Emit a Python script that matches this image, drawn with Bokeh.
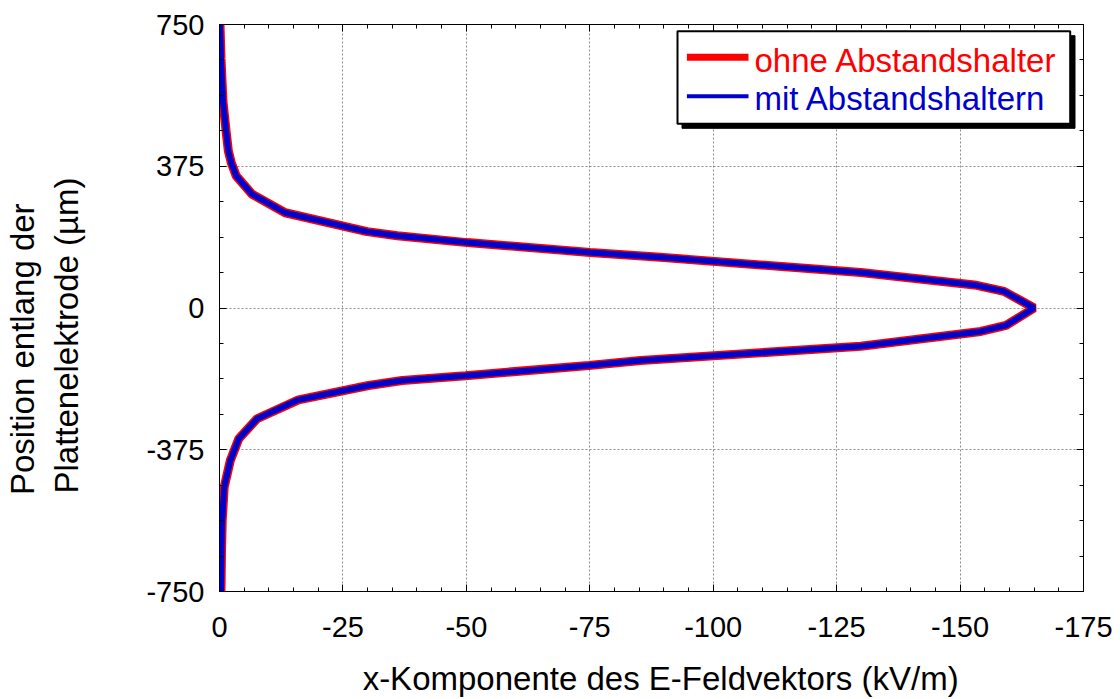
from bokeh.plotting import figure
from bokeh.models import (Range1d, FixedTicker, LinearAxis, BoxAnnotation, Label)
from bokeh.embed import file_html
from bokeh.resources import INLINE

# ---- data ----
position_um = [750, 661, 547, 460, 415, 384, 349, 301, 252, 202, 191, 173, 147, 134, 94, 61, 44, 0,
               -46, -62, -101, -139, -152, -179, -192, -205, -243, -293, -346, -403, -474, -562, -649, -750]
ex_ohne = [-0.1, -0.3, -0.7, -1.4, -1.8, -2.4, -3.4, -6.6, -13.3, -29.9, -36.0, -50.2, -75.1, -89.3,
           -129.9, -152.9, -158.9, -165.0,
           -159.3, -154.2, -129.9, -85.3, -74.8, -49.8, -37.0, -30.2, -16.0, -7.6, -3.9, -2.2,
           -0.95, -0.55, -0.4, -0.3]
ex_mit = [-0.1, -0.3, -0.7, -1.4, -1.8, -2.4, -3.4, -6.6, -13.3, -29.9, -36.0, -50.2, -75.1, -89.3,
          -129.9, -152.9, -158.9, -165.0,
          -159.3, -154.2, -129.9, -85.3, -74.8, -49.8, -37.0, -30.2, -16.0, -7.6, -3.9, -2.2,
          -0.95, -0.55, -0.4, -0.3]
x_ticks = [0, -25, -50, -75, -100, -125, -150, -175]
x_minor = [-5 * i for i in range(36)]
y_ticks = [-750, -375, 0, 375, 750]
y_minor = [-750 + 93.75 * i for i in range(17)]
series_names = ["ohne Abstandshalter", "mit Abstandshaltern"]
x_title = "x-Komponente des E-Feldvektors (kV/m)"
y_title_lines = ["Position entlang der", "Plattenelektrode (µm)"]

FONT = "Liberation Sans"
NB = "\u00a0"

p = figure(width=1120, height=699, output_backend="svg", toolbar_location=None,
           x_range=Range1d(0, -175), y_range=Range1d(-750, 750))
p.min_border_left = 219
p.min_border_right = 37
p.min_border_top = 24
p.min_border_bottom = 108
p.background_fill_color = "white"
p.border_fill_color = "white"
p.outline_line_color = "black"
p.outline_line_width = 1

xa = p.xaxis[0]
ya = p.yaxis[0]

def style_axis(ax, ticks, minor, show_labels):
    ax.ticker = FixedTicker(ticks=ticks, minor_ticks=minor)
    ax.axis_line_color = "black"
    ax.major_tick_line_color = "black"
    ax.minor_tick_line_color = "black"
    ax.major_tick_in = 7
    ax.major_tick_out = 0
    ax.minor_tick_in = 4
    ax.minor_tick_out = 0
    ax.major_label_text_font = FONT
    ax.major_label_text_color = "black"
    ax.major_label_text_font_size = "29px"
    if show_labels:
        ax.major_label_overrides = {t: str(t) for t in ticks}
    else:
        ax.major_label_overrides = {t: "" for t in ticks}
        ax.major_label_standoff = 0

style_axis(xa, x_ticks, x_minor, True)
style_axis(ya, y_ticks, y_minor, True)
xa.major_label_standoff = 25
ya.major_label_standoff = 15

top_ax = LinearAxis()
style_axis(top_ax, x_ticks, x_minor, False)
p.add_layout(top_ax, "above")
right_ax = LinearAxis()
style_axis(right_ax, y_ticks, y_minor, False)
p.add_layout(right_ax, "right")

# axis titles
xa.axis_label = NB * 2 + x_title
xa.axis_label_text_font = FONT
xa.axis_label_text_font_size = "33px"
xa.axis_label_text_font_style = "normal"
xa.axis_label_text_color = "black"
xa.axis_label_standoff = 20

ya.axis_label = y_title_lines[0] + NB * 9 + "\n" + y_title_lines[1] + NB * 6
ya.axis_label_text_font = FONT
ya.axis_label_text_font_size = "33px"
ya.axis_label_text_font_style = "normal"
ya.axis_label_text_color = "black"
ya.axis_label_standoff = 58

p.xgrid.ticker = FixedTicker(ticks=x_ticks)
p.ygrid.ticker = FixedTicker(ticks=y_ticks)
for g in (p.xgrid[0], p.ygrid[0]):
    g.grid_line_color = "#808080"
    g.grid_line_dash = "2 2"
    g.grid_line_width = 1
    g.grid_line_alpha = 0.9

p.line(ex_ohne, position_um, line_color="#ff0000", line_width=9)
p.line(ex_mit, position_um, line_color="#0000cc", line_width=6)

# ---- legend drawn by hand (screen units, relative to the plot frame) ----
def box(l, r, t, b, **kw):
    return BoxAnnotation(left=l, right=r, top=t, bottom=b,
                         left_units="screen", right_units="screen",
                         top_units="screen", bottom_units="screen", **kw)

p.add_layout(box(462.5, 855.5, 555.8, 463.2, fill_color="black", fill_alpha=1,
                 line_color="black", line_alpha=1))
p.add_layout(box(458, 850.7, 560.3, 467.7, fill_color="white", fill_alpha=1,
                 line_color="black", line_width=2, line_alpha=1))
p.add_layout(box(467.4, 529, 537.8, 530.8, fill_color="#ff0000", fill_alpha=1, line_alpha=0))
p.add_layout(box(467.4, 529, 497.2, 493.2, fill_color="#0000cc", fill_alpha=1, line_alpha=0))
p.add_layout(Label(x=535, y=531, x_units="screen", y_units="screen", text=series_names[0],
                   text_font=FONT, text_font_size="33px", text_color="#ff0000",
                   text_baseline="alphabetic", text_align="left"))
p.add_layout(Label(x=535, y=493, x_units="screen", y_units="screen", text=series_names[1],
                   text_font=FONT, text_font_size="33px", text_color="#0000cc",
                   text_baseline="alphabetic", text_align="left"))

open("out.html", "w").write(file_html(p, INLINE))
